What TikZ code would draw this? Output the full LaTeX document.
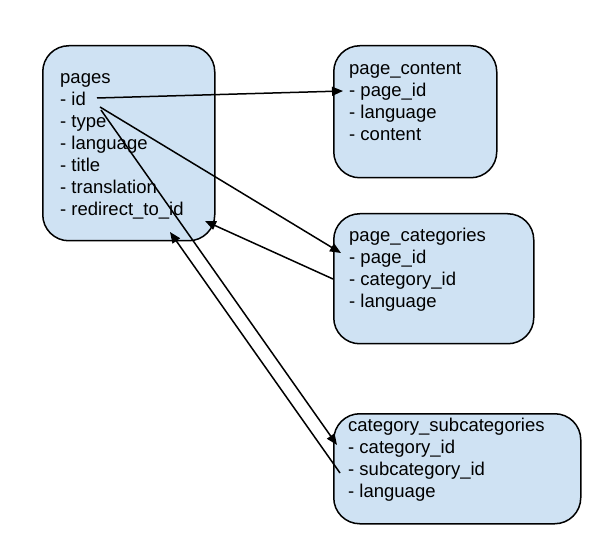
\documentclass[tikz,border=0pt]{standalone}
\usepackage{fontspec}
\setmainfont{Liberation Sans}
\usetikzlibrary{arrows.meta}
\definecolor{tablefill}{HTML}{CFE2F3}
\tikzset{
  dbtable/.style={draw=black, line width=1.5pt, fill=tablefill, rounded corners=26pt,
    anchor=north west, inner sep=0pt},
  field/.style={anchor=base west, inner sep=0pt, font=\fontsize{18.5}{22}\selectfont},
  link/.style={line width=1.5pt, -{Triangle[length=11pt,width=9pt]}},
}
\begin{document}
\begin{tikzpicture}[x=1pt,y=-1pt]
\useasboundingbox (0,0) rectangle (611,556);

% table boxes
\node[dbtable, minimum width=172pt, minimum height=195pt] (pages) at (42,45) {};
\node[dbtable, minimum width=163pt, minimum height=132pt] (content) at (333,45) {};
\node[dbtable, minimum width=200pt, minimum height=130pt] (cats) at (333,213) {};
\node[dbtable, minimum width=247pt, minimum height=110pt] (subcats) at (333,413) {};

% field lists
\foreach \t [count=\i from 0] in {pages, - id, - type, - language, - title, - translation, - redirect\_to\_id}
  \node[field] (pages-\i) at (60,84+22*\i) {\t};
\foreach \t [count=\i from 0] in {page\_content, - page\_id, - language, - content}
  \node[field] (content-\i) at (349,75+21.7*\i) {\t};
\foreach \t [count=\i from 0] in {page\_categories, - page\_id, - category\_id, - language}
  \node[field] (cats-\i) at (349,242+22*\i) {\t};
\foreach \t [count=\i from 0] in {category\_subcategories, - category\_id, - subcategory\_id, - language}
  \node[field] (subcats-\i) at (348,431+22*\i) {\t};

% connector end points
\coordinate (idA) at (97,98);
\coordinate (idB) at (100,107);
\coordinate (idC) at (101,110);
\coordinate (contentIn) at (343,91);
\coordinate (catsIn) at (341,253);
\coordinate (catsOut) at (333,279);
\coordinate (pagesInA) at (205,221);
\coordinate (subcatsIn) at (337,445);
\coordinate (subcatsOut) at (340,473);
\coordinate (pagesInB) at (170,232);

% relations
\draw[link] (idA) -- (contentIn);
\draw[link] (idB) -- (catsIn);
\draw[link] (catsOut) -- (pagesInA);
\draw[link] (idC) -- (subcatsIn);
\draw[link] (subcatsOut) -- (pagesInB);
\end{tikzpicture}
\end{document}
